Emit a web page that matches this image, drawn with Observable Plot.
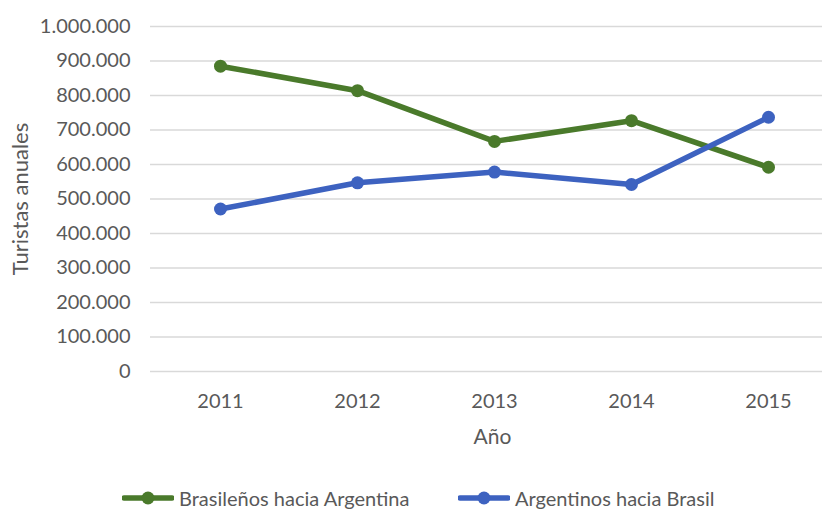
<!DOCTYPE html>
<html>
<head>
<meta charset="utf-8">
<script src="https://cdn.jsdelivr.net/npm/d3@7"></script>
<script src="https://cdn.jsdelivr.net/npm/@observablehq/plot@0.6"></script>
<style>
  body { margin: 0; background: #fff; font-family: Lato, "Open Sans", sans-serif; }
  #chart { position: relative; width: 822px; height: 512px; overflow: hidden; }
  .legend { position: relative; height: 42px; color: #595959; font-size: 20px; }
  .item { position: absolute; top: 17px; display: flex; align-items: center; height: 22px; line-height: 22px; white-space: nowrap; }
  .item svg { margin-right: 5px; }
</style>
</head>
<body>
<div id="chart"></div>
<script>
// Annual tourists between Brazil and Argentina, 2011–2015
const years = ["2011", "2012", "2013", "2014", "2015"];
const brasilenosHaciaArgentina = [885000, 814000, 667000, 727000, 592000];
const argentinosHaciaBrasil = [471000, 547000, 578000, 542000, 737000];
const yTicks = [0, 100000, 200000, 300000, 400000, 500000, 600000, 700000, 800000, 900000, 1000000];
const seriesNames = ["Brasileños hacia Argentina", "Argentinos hacia Brasil"];
const seriesColors = ["#4a7a2b", "#3d62c0"];

const esFormat = d3.formatLocale({decimal: ",", thousands: ".", grouping: [3], currency: ["", "€"]}).format(",d");

const rows = [
  ...years.map((year, i) => ({year, value: brasilenosHaciaArgentina[i], series: seriesNames[0]})),
  ...years.map((year, i) => ({year, value: argentinosHaciaBrasil[i], series: seriesNames[1]}))
];

const textColor = "#595959";

const plot = Plot.plot({
  width: 822,
  height: 470,
  marginLeft: 150,
  marginRight: 0,
  marginTop: 26,
  marginBottom: 99,
  style: {fontFamily: "Lato, 'Open Sans', sans-serif", fontSize: "20px", color: textColor, background: "#fff", overflow: "visible"},
  x: {type: "point", domain: years, padding: 0, insetLeft: 70, insetRight: 54},
  y: {domain: [0, 1000000]},
  color: {domain: seriesNames, range: seriesColors},
  marks: [
    Plot.ruleY(yTicks, {stroke: "#d9d9d9", strokeWidth: 1.5}),
    Plot.axisY(yTicks, {tickSize: 0, tickPadding: 20, tickFormat: esFormat, label: null, fill: textColor, fontSize: 20}),
    Plot.axisX({tickSize: 0, tickPadding: 22, label: null, fill: textColor, fontSize: 20}),
    Plot.text(["Turistas anuales"], {frameAnchor: "left", textAnchor: "middle", dx: -130, rotate: -90, fill: textColor, fontSize: 22, letterSpacing: "0.8px"}),
    Plot.text(["Año"], {frameAnchor: "bottom", dx: 6, dy: 72, fill: textColor, fontSize: 21}),
    Plot.line(rows, {x: "year", y: "value", z: "series", stroke: "series", strokeWidth: 5.5, strokeLinejoin: "round", strokeLinecap: "round"}),
    Plot.dot(rows, {x: "year", y: "value", fill: "series", r: 6.5})
  ]
});

const chart = document.getElementById("chart");
chart.appendChild(plot);

// Legend below the plot
const legend = document.createElement("div");
legend.className = "legend";
const itemLefts = [122, 458];
seriesNames.forEach((name, i) => {
  const item = document.createElement("div");
  item.className = "item";
  item.style.left = itemLefts[i] + "px";
  item.innerHTML =
    `<svg width="52" height="16"><line x1="2" x2="50" y1="8" y2="8" stroke="${seriesColors[i]}" stroke-width="5.5" stroke-linecap="round"/>` +
    `<circle cx="26" cy="8" r="6.5" fill="${seriesColors[i]}"/></svg><span>${name}</span>`;
  legend.appendChild(item);
});
chart.appendChild(legend);
</script>
</body>
</html>
